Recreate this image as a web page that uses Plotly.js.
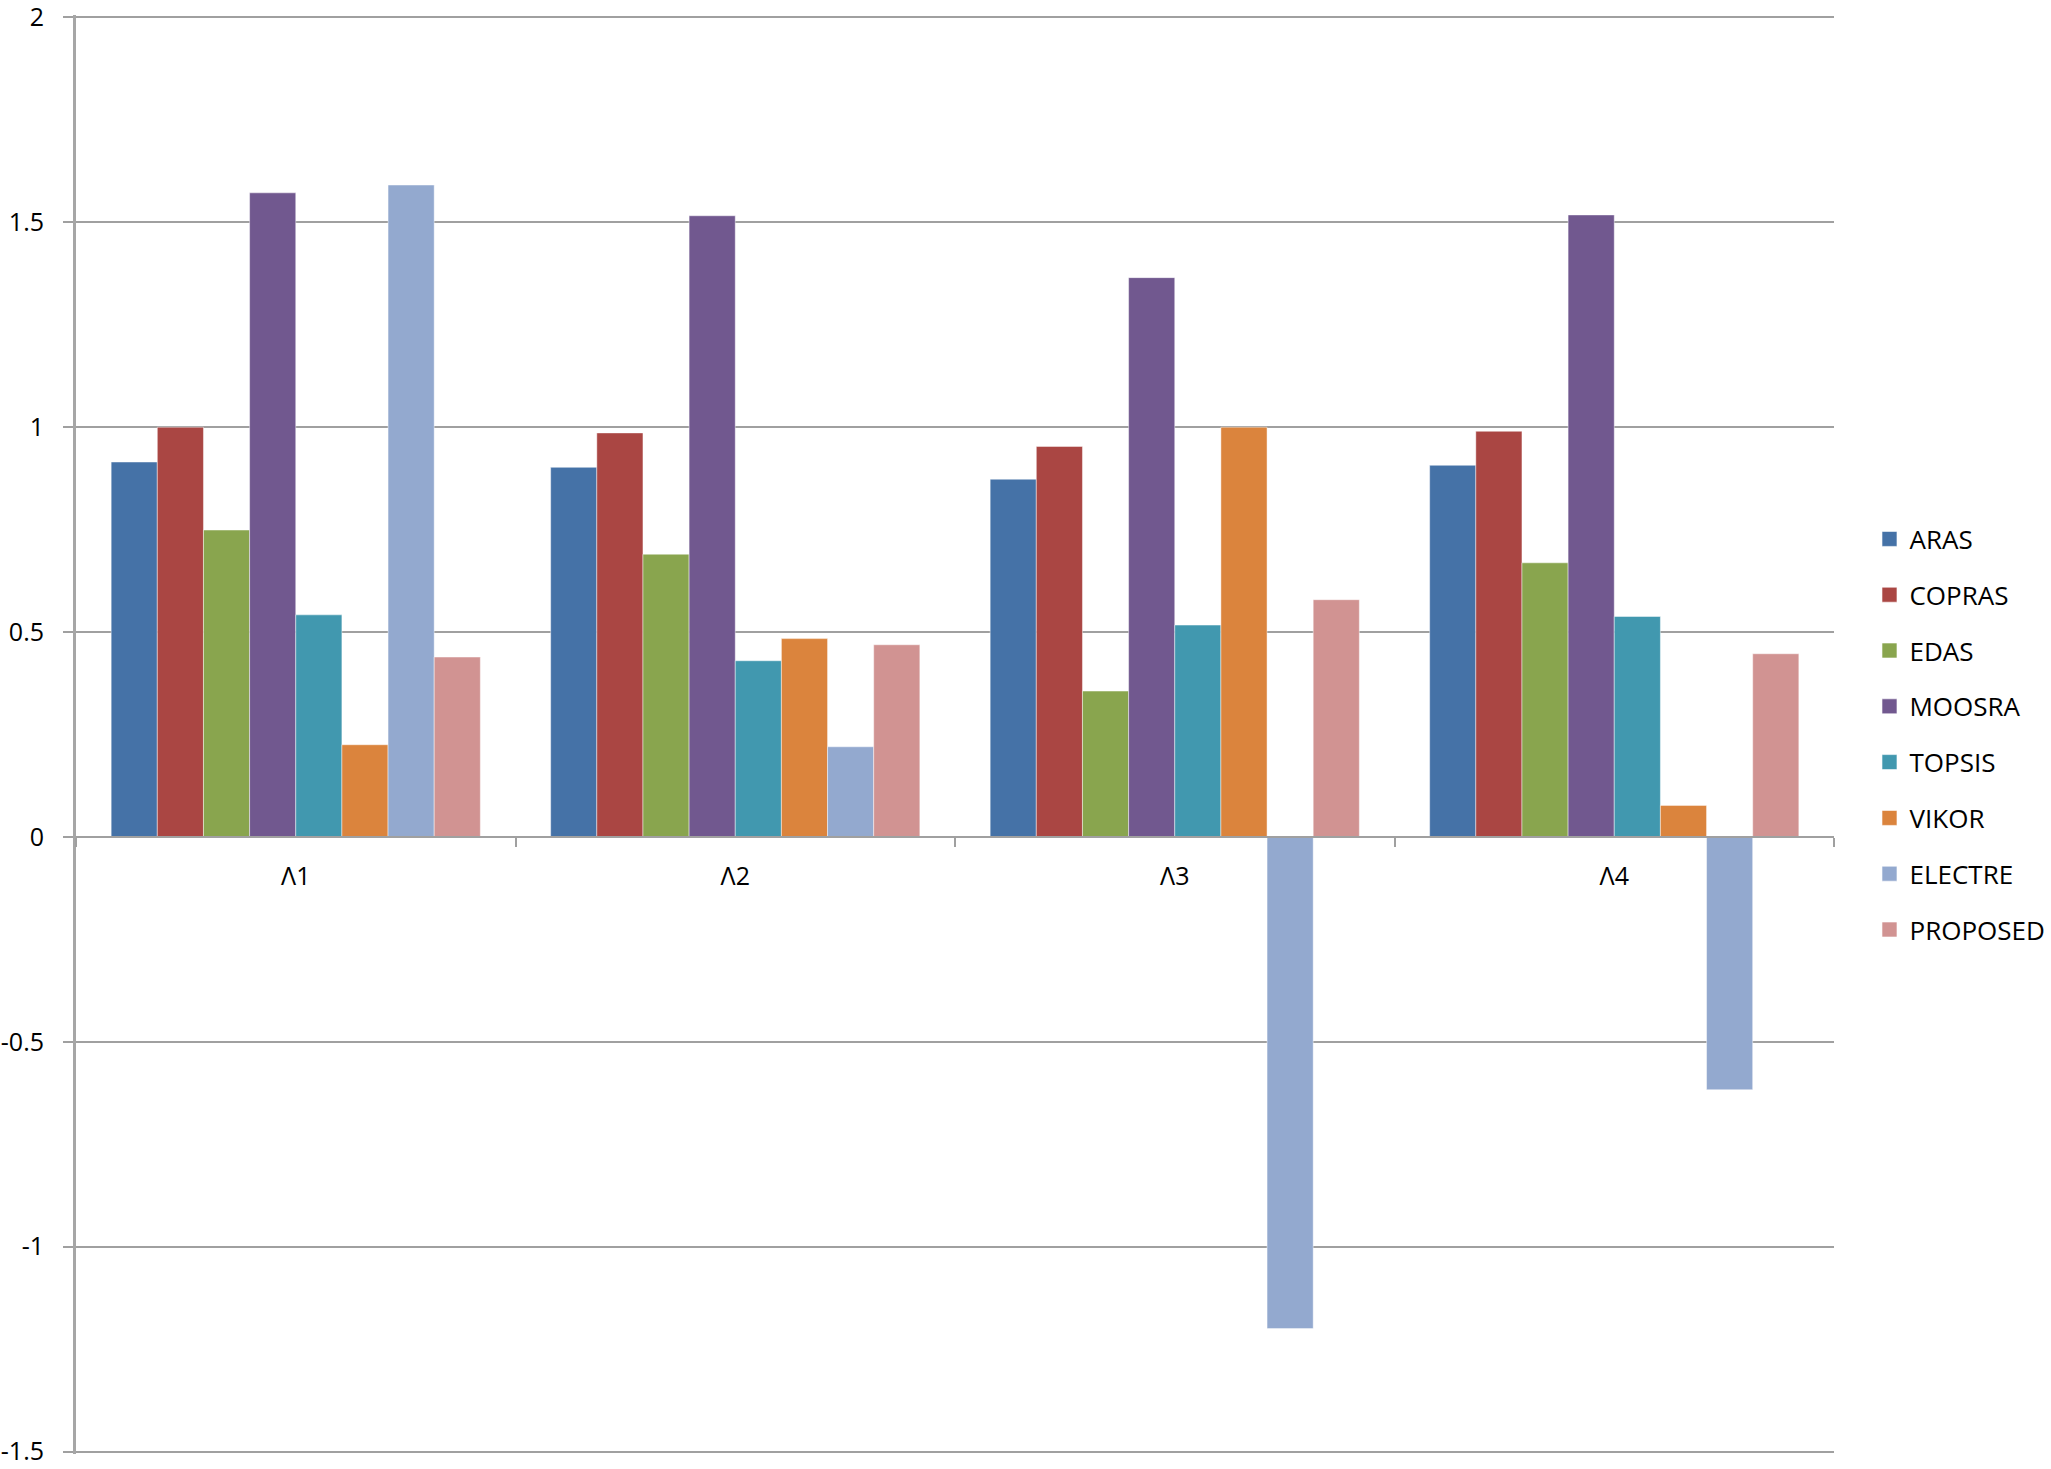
<!DOCTYPE html>
<html>
<head>
<meta charset="utf-8">
<script src="https://cdn.plot.ly/plotly-3.0.1.min.js"></script>
<style>html,body{margin:0;padding:0;background:#fff;}#chart{width:2051px;height:1469px;}</style>
</head>
<body>
<div id="chart"></div>
<script>
const categories = ["Λ1", "Λ2", "Λ3", "Λ4"];
const ARAS     = [0.915, 0.902, 0.873, 0.907];
const COPRAS   = [1.000, 0.986, 0.953, 0.990];
const EDAS     = [0.749, 0.690, 0.356, 0.669];
const MOOSRA   = [1.572, 1.516, 1.365, 1.518];
const TOPSIS   = [0.542, 0.430, 0.517, 0.538];
const VIKOR    = [0.225, 0.484, 1.000, 0.077];
const ELECTRE  = [1.591, 0.220, -1.200, -0.617];
const PROPOSED = [0.439, 0.469, 0.579, 0.447];

const seriesNames = ["ARAS", "COPRAS", "EDAS", "MOOSRA", "TOPSIS", "VIKOR", "ELECTRE", "PROPOSED"];
const seriesValues = [ARAS, COPRAS, EDAS, MOOSRA, TOPSIS, VIKOR, ELECTRE, PROPOSED];
const seriesColors = ["#4572A7", "#AA4643", "#89A54E", "#71588F", "#4198AF", "#DB843D", "#93A9CF", "#D19392"];

const yTickVals = [-1.5, -1, -0.5, 0, 0.5, 1, 1.5, 2];
const yTickText = ["-1.5", "-1", "-0.5", "0", "0.5", "1", "1.5", "2"];
const yMin = -1.506, yMax = 2.006;

const barTraces = seriesNames.map((name, i) => ({
  type: "bar",
  name: name,
  x: categories,
  y: seriesValues[i],
  legendgroup: name,
  showlegend: false,
  marker: { color: seriesColors[i], line: { color: "rgba(255,255,255,0.45)", width: 1 } },
  hoverinfo: "x+y+name"
}));

// legend entries (square swatches)
const legendTraces = seriesNames.map((name, i) => ({
  type: "scatter",
  mode: "markers",
  name: name,
  x: [null],
  y: [null],
  legendgroup: name,
  showlegend: true,
  hoverinfo: "skip",
  marker: { symbol: "square", size: 15, color: seriesColors[i], line: { color: "rgba(255,255,255,0.6)", width: 1 } }
}));

const layout = {
  width: 2051,
  height: 1469,
  paper_bgcolor: "#ffffff",
  plot_bgcolor: "#ffffff",
  margin: { l: 76, r: 217, t: 15, b: 15, pad: 0 },
  barmode: "group",
  bargap: 0.16,
  bargroupgap: 0,
  showlegend: true,
  legend: {
    xref: "container", yref: "container",
    x: 0.9115, xanchor: "left",
    y: 0.5, yanchor: "middle",
    traceorder: "grouped",
    tracegroupgap: 19,
    itemsizing: "trace",
    font: { family: "Open Sans, Liberation Sans, sans-serif", size: 26, color: "#000000" },
    bgcolor: "rgba(0,0,0,0)"
  },
  xaxis: {
    type: "category",
    anchor: "free",
    position: (0 - yMin) / (yMax - yMin),
    showline: true,
    linecolor: "#A0A0A0",
    linewidth: 2,
    ticks: "outside",
    tickson: "boundaries",
    ticklen: 9,
    tickwidth: 2,
    tickcolor: "#A0A0A0",
    ticklabelstandoff: 17,
    showgrid: false,
    zeroline: false,
    tickfont: { family: "Open Sans, Liberation Sans, sans-serif", size: 25, color: "#000000" }
  },
  yaxis: {
    range: [yMin, yMax],
    tickmode: "array",
    tickvals: yTickVals,
    ticktext: yTickText,
    ticklabeloverflow: "allow",
    showgrid: true,
    gridcolor: "#A0A0A0",
    gridwidth: 2,
    zeroline: false,
    showline: true,
    linecolor: "#A6A6A6",
    linewidth: 3,
    ticks: "outside",
    ticklen: 10,
    tickwidth: 2,
    tickcolor: "#A0A0A0",
    ticklabelstandoff: 14,
    tickfont: { family: "Open Sans, Liberation Sans, sans-serif", size: 25, color: "#000000" }
  }
};

Plotly.newPlot("chart", barTraces.concat(legendTraces), layout, { displayModeBar: false, responsive: false });
</script>
</body>
</html>
